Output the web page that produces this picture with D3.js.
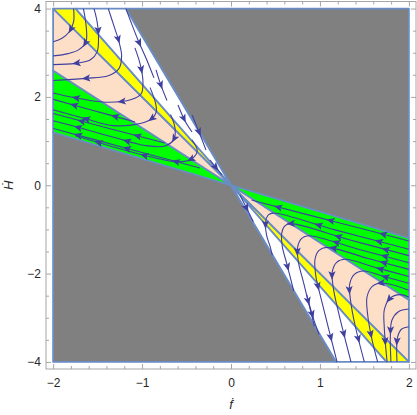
<!DOCTYPE html>
<html>
<head>
<meta charset="utf-8">
<script src="https://cdn.jsdelivr.net/npm/d3@7"></script>
<style>
  body { margin: 0; background: #fff; }
  svg { display: block; }
  .axis text { font-family: "Liberation Sans", Arial, sans-serif; font-size: 12px; fill: #262626; }
  .axis line { stroke: #a6a6a6; }
  .lab { font-family: "Liberation Sans", Arial, sans-serif; font-size: 13px; font-style: italic; fill: #262626; }
</style>
</head>
<body>
<script>
const xTicks = [-2, -1, 0, 1, 2],
    yTicks = [-4, -2, 0, 2, 4],
    xMinor = d3.range(-10, 11).filter(i => i % 5 != 0).map(i => i / 5),
    yMinor = d3.range(-8, 9).filter(i => i % 4 != 0).map(i => i / 2),
    xRange = [-2, 2],
    yRange = [-4, 4];

// slopes dH/df of the region boundaries, all through the origin
const wedgeSlopes = [-0.6, -1.3, -2, -2.29, -3.38];
const bandColors = ["#00ff00", "#fddfc7", "#ffff00", "#ffffff"];  // green, peach, yellow, white

// stream lines, [f, H] points in flow order
const leftArcs = [
  [[-1.77,4.0],[-1.77,3.70],[-1.82,3.47],[-1.90,3.33],[-2.0,3.25]],
  [[-1.66,4.0],[-1.63,3.63],[-1.63,3.25],[-1.71,3.07],[-1.83,2.98],[-2.0,2.93]],
  [[-1.54,4.0],[-1.505,3.70],[-1.49,3.385],[-1.505,3.02],[-1.58,2.84],[-1.75,2.76],[-2.0,2.73]],
  [[-1.38,4.0],[-1.32,3.63],[-1.26,3.25],[-1.23,2.93],[-1.26,2.64],[-1.38,2.48],[-1.64,2.42],[-2.0,2.37]],
  [[-1.08,3.11],[-1.02,2.73],[-0.99,2.34],[-1.01,2.07],[-1.12,1.94],[-1.415,1.88],[-1.75,1.98],[-2.0,2.09]],
  [[-0.91,2.21],[-0.85,1.87],[-0.84,1.66],[-0.89,1.51],[-1.02,1.40],[-1.325,1.35],[-1.64,1.51],[-2.0,1.71]],
  [[-0.68,1.60],[-0.63,1.30],[-0.64,1.05],[-0.74,0.89],[-0.965,0.90],[-1.30,1.075],[-1.70,1.30],[-2.0,1.46]],
  [[-0.44,1.03],[-0.38,0.78],[-0.44,0.60],[-0.59,0.53],[-0.91,0.645],[-1.36,0.89],[-1.75,1.12]]
];
const leftGreen = [
  [[-1.079,1.432],[-1.529,1.683],[-1.998,1.944]],
  [[-0.742,0.957],[-1.360,1.278],[-1.998,1.624]],
  [[-0.349,0.390],[-1.136,0.816],[-1.998,1.285]]
];
const leftWhite = [
  [[-1.181,4.0],[-1.124,3.69],[-1.046,3.29],[-0.956,2.88],[-0.866,2.43]],
  [[-0.843,2.61],[-0.787,2.26],[-0.720,1.92]],
  [[-0.596,1.817],[-0.517,1.455],[-0.438,1.206]],
  [[-0.438,1.59],[-0.360,1.206],[-0.281,0.798]],
  [[-0.236,0.571],[-0.101,0.232]]
];
const rightArcs = [
  [[2.0,-1.45],[1.17,-1.01],[0.476,-0.63],[0.42,-0.67],[0.39,-0.82],[0.40,-1.13],[0.44,-1.39],[0.465,-1.59]],
  [[2.0,-1.594],[1.319,-1.227],[0.663,-0.870],[0.600,-0.930],[0.570,-1.089],[0.577,-1.391],[0.626,-1.768],[0.705,-2.394]],
  [[2.0,-1.753],[1.432,-1.447],[0.870,-1.142],[0.795,-1.202],[0.750,-1.391],[0.757,-1.730],[0.813,-2.183],[0.937,-3.187]],
  [[2.0,-1.904],[1.544,-1.660],[1.076,-1.406],[0.990,-1.474],[0.945,-1.670],[0.952,-2.032],[1.012,-2.560],[1.196,-4.03]],
  [[2.0,-2.065],[1.638,-1.871],[1.282,-1.677],[1.188,-1.745],[1.139,-1.957],[1.151,-2.334],[1.207,-2.862],[1.353,-4.03]],
  [[2.0,-2.217],[1.739,-2.077],[1.488,-1.941],[1.387,-2.017],[1.334,-2.243],[1.346,-2.636],[1.394,-3.164],[1.503,-4.03]],
  [[2.0,-2.376],[1.694,-2.213],[1.589,-2.289],[1.529,-2.530],[1.537,-2.938],[1.582,-3.466],[1.653,-4.03]],
  [[2.0,-2.529],[1.900,-2.477],[1.788,-2.560],[1.724,-2.817],[1.724,-3.240],[1.751,-3.919],[1.757,-4.03]],
  [[2.0,-2.802],[1.882,-2.862],[1.810,-3.051],[1.792,-3.391],[1.799,-4.03]],
  [[2.0,-3.202],[1.919,-3.255],[1.874,-3.428],[1.863,-3.692],[1.867,-4.03]]
];
const rightGreen = [
  [[2.0,-1.262],[1.169,-0.825],[0.364,-0.409],[0.232,-0.334]]
];
const rightWhite = [
  [[0.101,-0.221],[0.176,-0.523],[0.251,-0.825]],
  [[0.851,-2.485],[0.926,-3.013],[0.990,-3.375]]
];

const W = 417, H = 415;
const x = d3.scaleLinear().domain([-2.08, 2.08]).range([46, 416]),
    y = d3.scaleLinear().domain([-4.16, 4.16]).range([369, 1.5]);

const svg = d3.select("body").append("svg").attr("width", W).attr("height", H);

svg.append("defs").append("clipPath").attr("id", "box")
  .append("rect")
  .attr("x", x(xRange[0])).attr("y", y(yRange[1]))
  .attr("width", x(xRange[1]) - x(xRange[0]))
  .attr("height", y(yRange[0]) - y(yRange[1]));

// Sutherland-Hodgman against the plot box, in data units
function clipPoly(poly) {
  const edges = [
    [p => p[0] >= xRange[0], (a, b) => cut(a, b, 0, xRange[0])],
    [p => p[0] <= xRange[1], (a, b) => cut(a, b, 0, xRange[1])],
    [p => p[1] >= yRange[0], (a, b) => cut(a, b, 1, yRange[0])],
    [p => p[1] <= yRange[1], (a, b) => cut(a, b, 1, yRange[1])]
  ];
  function cut(a, b, i, v) {
    const t = (v - a[i]) / (b[i] - a[i]);
    return [a[0] + t * (b[0] - a[0]), a[1] + t * (b[1] - a[1])];
  }
  let out = poly;
  edges.forEach(([inside, inter]) => {
    const src = out; out = [];
    src.forEach((cur, i) => {
      const prev = src[(i + src.length - 1) % src.length];
      if (inside(cur)) {
        if (!inside(prev)) out.push(inter(prev, cur));
        out.push(cur);
      } else if (inside(prev)) out.push(inter(prev, cur));
    });
  });
  return out;
}

const k0 = wedgeSlopes[0], k4 = wedgeSlopes[wedgeSlopes.length - 1];
const regions = [
  {fill: "#808080", pts: [[0,0],[20,20*k0],[20,100],[100/k4,100]]},
  {fill: "#808080", pts: [[0,0],[-20,-20*k0],[-20,-100],[-100/k4,-100]]}
];
bandColors.forEach((c, i) => {
  const a = wedgeSlopes[i], b = wedgeSlopes[i + 1];
  regions.push({fill: c, pts: [[0,0],[-20,-20*a],[-20,-20*b]]});
  regions.push({fill: c, pts: [[0,0],[20,20*a],[20,20*b]]});
});

const poly = d3.line().x(d => x(d[0])).y(d => y(d[1]));
svg.append("g").selectAll("path")
  .data(regions)
  .join("path")
  .attr("d", d => poly(clipPoly(d.pts)) + "Z")
  .attr("fill", d => d.fill)
  .attr("stroke", "#6a8cc4")
  .attr("stroke-width", 1.8)
  .attr("stroke-linejoin", "round");

// stream lines
const streams = [].concat(leftArcs, leftGreen, leftWhite, rightArcs, rightGreen, rightWhite);
const streamLine = d3.line().x(d => x(d[0])).y(d => y(d[1])).curve(d3.curveCatmullRom.alpha(0.5));
const sg = svg.append("g").attr("clip-path", "url(#box)");
const paths = sg.selectAll("path.stream")
  .data(streams)
  .join("path")
  .attr("class", "stream")
  .attr("d", streamLine)
  .attr("fill", "none")
  .attr("stroke", "#3f3fa0")
  .attr("stroke-width", 1.1);

paths.each(function() {
  const L = this.getTotalLength(),
      n = Math.max(1, Math.round(L / 55));
  for (let k = 0; k < n; k++) {
    const s = L * (k + 0.5) / n,
        p = this.getPointAtLength(s),
        p0 = this.getPointAtLength(Math.max(0, s - 1)),
        p1 = this.getPointAtLength(Math.min(L, s + 1)),
        ang = Math.atan2(p1.y - p0.y, p1.x - p0.x) * 180 / Math.PI;
    sg.append("path")
      .attr("d", "M4,0L-4.5,-3.6L-2.6,0L-4.5,3.6Z")
      .attr("transform", "translate(" + p.x + "," + p.y + ") rotate(" + ang + ")")
      .attr("fill", "#3f3fa0");
  }
});

// frame and ticks
svg.append("rect")
  .attr("x", 46).attr("y", 1.5).attr("width", 370).attr("height", 367.5)
  .attr("fill", "none").attr("stroke", "#a6a6a6");

function axis(gen, tr, vals, size, fmt) {
  svg.append("g").attr("class", "axis").attr("transform", tr)
    .call(gen.tickValues(vals).tickSize(size).tickFormat(fmt))
    .call(g => g.select(".domain").remove());
}
const fmt = d3.format("d");
axis(d3.axisBottom(x).tickPadding(9), "translate(0,369)", xTicks, -5, fmt);
axis(d3.axisBottom(x), "translate(0,369)", xMinor, -3, "");
axis(d3.axisTop(x), "translate(0,1.5)", xTicks, -5, "");
axis(d3.axisTop(x), "translate(0,1.5)", xMinor, -3, "");
axis(d3.axisLeft(y).tickPadding(5), "translate(46,0)", yTicks, -5, fmt);
axis(d3.axisLeft(y), "translate(46,0)", yMinor, -3, "");
axis(d3.axisRight(y), "translate(416,0)", yTicks, -5, "");
axis(d3.axisRight(y), "translate(416,0)", yMinor, -3, "");

svg.append("text").attr("class", "lab")
  .attr("x", x(0)).attr("y", 409).attr("text-anchor", "middle").text("ḟ");
svg.append("text").attr("class", "lab")
  .attr("transform", "translate(13," + y(0) + ") rotate(-90)")
  .attr("text-anchor", "middle").text("Ḣ");
</script>
</body>
</html>
